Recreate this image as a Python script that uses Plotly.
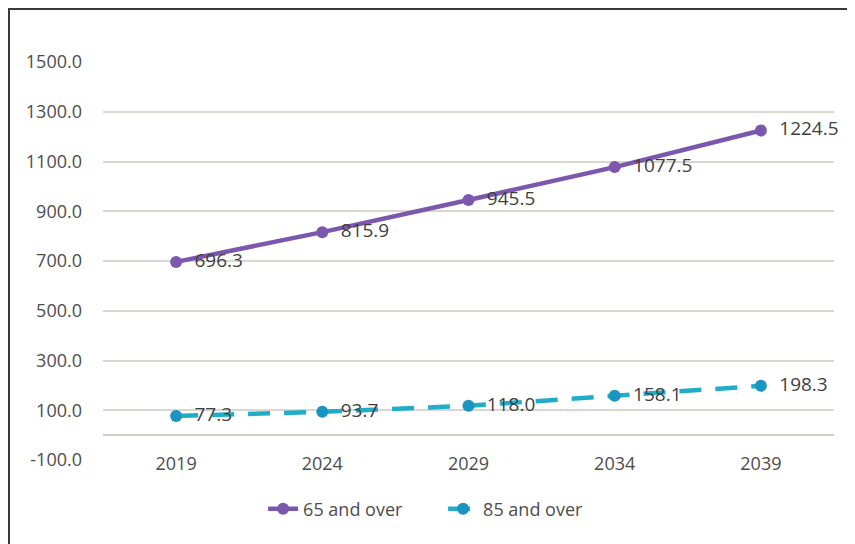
import plotly.graph_objects as go

years = ["2019", "2024", "2029", "2034", "2039"]
over65 = [696.3, 815.9, 945.5, 1077.5, 1224.5]
over85 = [77.3, 93.7, 118.0, 158.1, 198.3]
ytick_vals = [-100, 100, 300, 500, 700, 900, 1100, 1300, 1500]

FONT = "Open Sans"
fig = go.Figure()
fig.add_trace(go.Scatter(
    x=years, y=over65, name="65 and over", mode="lines+markers+text",
    line=dict(color="#7B58AE", width=4.5),
    marker=dict(color="#7B58AE", size=12),
    texttemplate="  %{y:.1f}", textposition="middle right",
    textfont=dict(family=FONT, size=19, color="#3F3F3F"),
    cliponaxis=False,
))
fig.add_trace(go.Scatter(
    x=years, y=over85, name="85 and over", mode="lines+markers+text",
    line=dict(color="#1FADC8", width=4.5, dash="22px,14px"),
    marker=dict(color="#1A94C0", size=12),
    texttemplate="  %{y:.1f}", textposition="middle right",
    textfont=dict(family=FONT, size=19, color="#3F3F3F"),
    cliponaxis=False,
))

fig.update_layout(
    width=847, height=536,
    margin=dict(l=95, r=21, t=54, b=84),
    plot_bgcolor="white", paper_bgcolor="white",
    font=dict(family=FONT, size=18, color="#4D4D4D"),
    showlegend=True,
    legend=dict(orientation="h", x=0.219, xanchor="left", y=-0.123, yanchor="middle",
                font=dict(family=FONT, size=18, color="#4D4D4D"),
                entrywidth=135, entrywidthmode="pixels",
                traceorder="normal"),
    xaxis=dict(type="category", range=[-0.5, 4.5], showgrid=False, showline=False,
               ticks="", ticklabelstandoff=-9, tickfont=dict(size=18)),
    yaxis=dict(range=[-100, 1500], tickvals=ytick_vals,
               ticktext=[f"{v:.1f}" for v in ytick_vals],
               showgrid=True, gridcolor="#DAD6D2", gridwidth=1.5,
               zeroline=True, zerolinecolor="#CFCBC7", zerolinewidth=1.5,
               showline=False, ticks="", ticklabelstandoff=20,
               tickfont=dict(size=18)),
    shapes=[dict(type="rect", xref="paper", yref="paper",
                 x0=-0.1286, x1=1.04, y0=-0.25, y1=1.1332,
                 line=dict(color="#3A3A3A", width=2), fillcolor="rgba(0,0,0,0)")],
)

fig.write_html("out.html")
